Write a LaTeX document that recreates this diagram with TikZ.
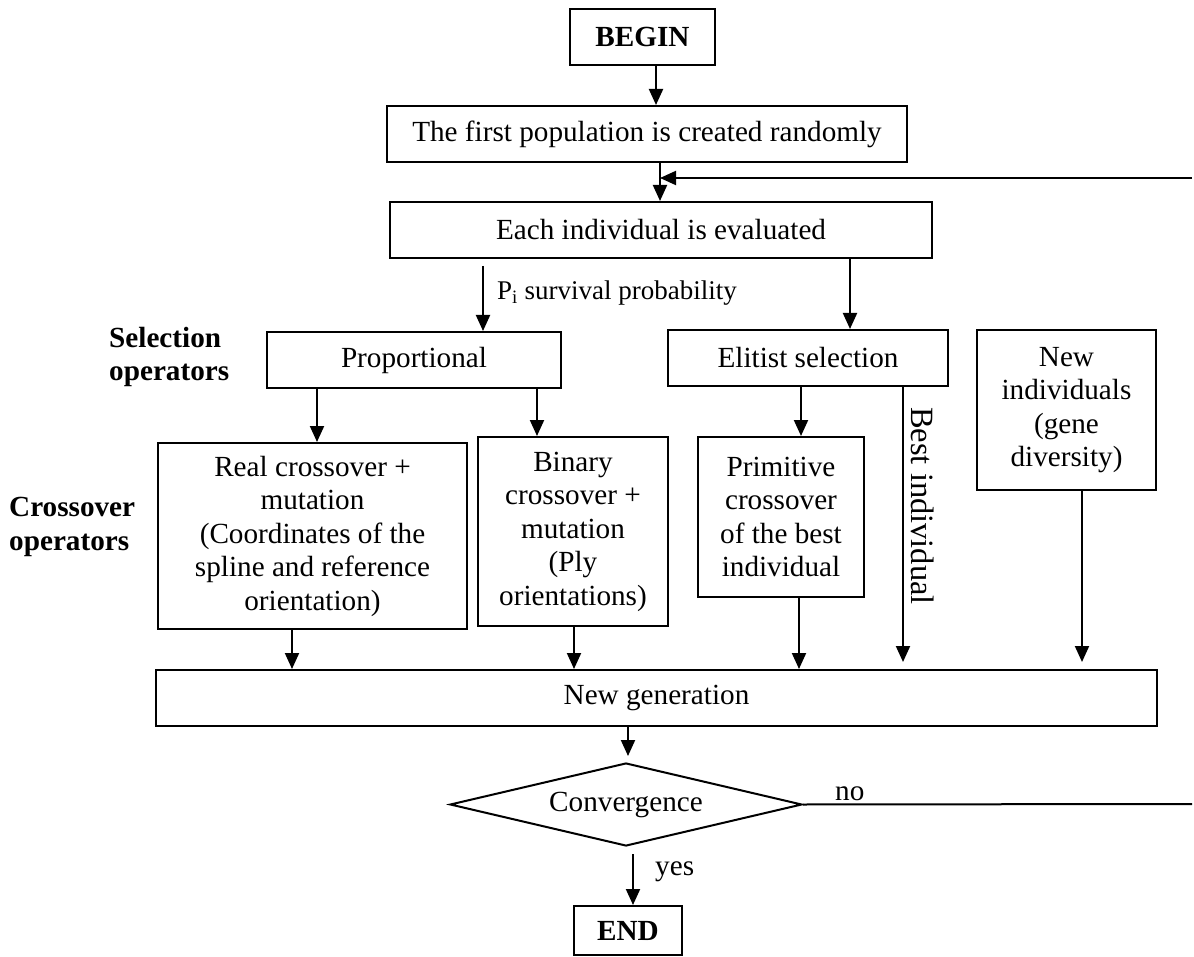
\documentclass[tikz,border=0pt]{standalone}
\usepackage{fontspec}
\setmainfont{Liberation Serif}
\usetikzlibrary{arrows.meta,shapes.geometric}
\newcommand\myfs{\fontsize{29.2}{33.5}\selectfont}
\newcommand\smallfs{\fontsize{27}{31}\selectfont}
\newcommand\bigfs{\fontsize{32.5}{37}\selectfont}
\begin{document}
\begin{tikzpicture}[x=1pt,y=-1pt,
 box/.style={draw,line width=2pt,inner sep=0pt,align=center,font=\myfs},
 lab/.style={inner sep=0pt,align=left,font=\myfs},
 arr/.style={line width=2pt,-{Triangle[length=16pt,width=14pt]}},
 ln/.style={line width=2pt}]
\useasboundingbox (0,0) rectangle (1194,957);

% boxes
\node[box,minimum width=145,minimum height=56,font=\myfs\bfseries] (begin) at (642.5,37) {BEGIN};
\node[box,minimum width=520,minimum height=56] (first) at (647,134) {The first population is created randomly};
\node[box,minimum width=542,minimum height=56] (each) at (661,230) {Each individual is evaluated};
\node[box,minimum width=294,minimum height=56] (prop) at (414,360) {Proportional};
\node[box,minimum width=280,minimum height=56] (elit) at (808,358) {Elitist selection};
\node[box,minimum width=179,minimum height=160] (newind) at (1066.5,410) {New\\individuals\\(gene\\diversity)};
\node[box,minimum width=309,minimum height=186] (real) at (312.5,536) {Real crossover +\\mutation\\(Coordinates of the\\spline and reference\\orientation)};
\node[box,minimum width=190,minimum height=189] (binary) at (573,531.5) {Binary\\crossover +\\mutation\\(Ply\\orientations)};
\node[box,minimum width=166,minimum height=160] (prim) at (781,517) {Primitive\\crossover\\of the best\\individual};
\node[box,minimum width=1001,minimum height=56] (newgen) at (656.5,698) {New generation};
\node[box,diamond,aspect=4.24,minimum width=352,minimum height=83] (conv) at (626,804.5) {Convergence};
\node[box,minimum width=108,minimum height=49,font=\myfs\bfseries] (end) at (628,930.5) {END};

% side labels
\node[lab,anchor=west,font=\myfs\bfseries] (selop) at (109,357) {Selection\\operators};
\node[lab,anchor=west,font=\myfs\bfseries] (crossop) at (9,527) {Crossover\\operators};

% coordinates for free ends
\coordinate (fbstart) at (1192,178);
\coordinate (noend) at (1192,804);
\coordinate (join) at ([xshift=13]first.south);

% connectors
\draw[arr] ([xshift=13.5]begin.south) -- ([xshift=13.5]begin.south |- first.north);
\draw[arr] (join) -- (join |- each.north);
\draw[arr] (fbstart) -- (fbstart -| join);
\draw[arr] ([xshift=69,yshift=-7]prop.north |- each.south) -- ([xshift=69]prop.north);
\node[lab,anchor=west,font=\smallfs] (pi) at (497,293) {P\textsubscript{i} survival probability};
\draw[arr] ([xshift=42]elit.north |- each.south) -- ([xshift=42]elit.north);
\draw[arr] ([xshift=4.5]real.north |- prop.south) -- ([xshift=4.5]real.north);
\draw[arr] ([xshift=-36]binary.north |- prop.south) -- ([xshift=-36]binary.north);
\draw[arr] ([xshift=20]prim.north |- elit.south) -- ([xshift=20]prim.north);
\draw[arr] ([xshift=95]elit.south) -- ([xshift=95,yshift=7]elit.south |- newgen.north);
\node[lab,rotate=-90,font=\bigfs] (best) at (923,506) {Best individual};
\draw[arr] ([xshift=15.5]newind.south) -- ([xshift=15.5,yshift=7]newind.south |- newgen.north);
\draw[arr] ([xshift=-20.5]real.south) -- ([xshift=-20.5]real.south |- newgen.north);
\draw[arr] ([xshift=1]binary.south) -- ([xshift=1]binary.south |- newgen.north);
\draw[arr] ([xshift=18]prim.south) -- ([xshift=18]prim.south |- newgen.north);
\draw[arr] ([xshift=-28.5]newgen.south) -- ([xshift=-28.5,yshift=6]newgen.south |- conv.north);
\draw[arr] ([xshift=7,yshift=-7]conv.south) -- ([xshift=7]conv.south |- end.north);
\node[lab,anchor=west] (yes) at (655,872) {yes};
\draw[ln] (conv.east) -- (noend);
\node[lab,anchor=south west] (no) at (835,801) {no};
\end{tikzpicture}
\end{document}
